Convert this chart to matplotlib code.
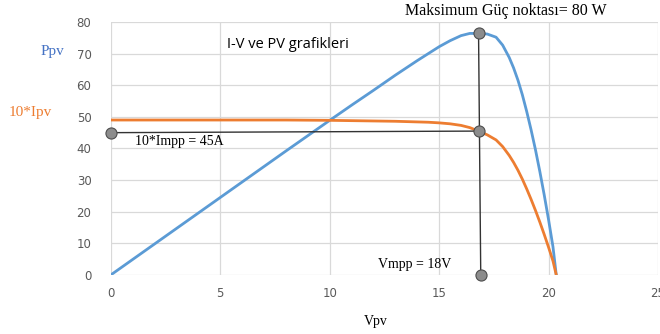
import numpy as np
import matplotlib.pyplot as plt

# Vpv (V), 10*Ipv (A) and Ppv (W)
vpv = [0, 2, 4, 6, 8, 10, 11, 12, 13, 14, 14.5, 15, 15.5, 16, 16.4, 16.8, 17.2, 17.6, 17.9,
       18.2, 18.4, 18.6, 18.8, 19.0, 19.2, 19.4, 19.6, 19.8, 20.0, 20.2, 20.35]
ipv10 = [49, 49, 49, 49, 49, 48.9, 48.8, 48.7, 48.6, 48.4, 48.3, 48.1, 47.8, 47.3, 46.6, 45.5, 44.3,
         42.7, 40.6, 37.8, 35.6, 33.1, 30.3, 27.2, 23.9, 20.4, 16.7, 12.8, 8.7, 4.4, 0]
ppv = [0, 9.8, 19.6, 29.4, 39.2, 48.9, 53.7, 58.4, 63.2, 67.8, 70.0, 72.2, 74.1, 75.7, 76.4, 76.4, 76.2,
       75.2, 72.7, 68.8, 65.5, 61.6, 57.0, 51.7, 45.9, 39.6, 32.7, 25.3, 17.4, 8.9, 0]

vmpp = 16.8
pmpp = 76.4
impp10 = 45.5
impp_left = 45

xticks = [0, 5, 10, 15, 20, 25]
yticks = [0, 10, 20, 30, 40, 50, 60, 70, 80]

serif = 'Liberation Serif'
blue = '#5B9BD5'
orange = '#ED7D31'

fig = plt.figure(figsize=(6.6, 3.34), dpi=100)
ax = fig.add_axes([0.168, 0.177, 0.829, 0.757])

ax.plot(vpv, ppv, color=blue, lw=2, solid_joinstyle='round', zorder=3)
ax.plot(vpv, ipv10, color=orange, lw=2, solid_joinstyle='round', zorder=3)

# MPP guide lines
ax.plot([vmpp, vmpp + 0.1], [pmpp, 0], color='#333333', lw=1, zorder=4)
ax.plot([0, vmpp], [impp_left, impp10], color='#333333', lw=1, zorder=4)
mk = dict(marker='o', ms=8, mfc='#8c8c8c', mec='#4d4d4d', mew=0.8, ls='none', zorder=5)
ax.plot([vmpp], [pmpp], **mk)
ax.plot([vmpp], [impp10], **mk)
ax.plot([0], [impp_left], clip_on=False, **mk)
ax.plot([vmpp + 0.1], [0], clip_on=False, **mk)

ax.set_xlim(0, 25)
ax.set_ylim(0, 80)
ax.set_xticks(xticks)
ax.set_yticks(yticks)
ax.grid(True, color='#d9d9d9', lw=0.9)
ax.set_axisbelow(True)
for s in ax.spines.values():
    s.set_visible(False)
ax.tick_params(length=0, labelsize=8.5, labelcolor='#595959', pad=9)
ax.tick_params(axis='y', pad=14)

ax.text(8.1, 73, 'I-V ve PV grafikleri', fontsize=10.5, family='Open Sans', ha='center', va='center')
fig.text(506 / 660, 1 - 11 / 334, 'Maksimum Güç noktası= 80 W', fontsize=11.5, family=serif,
         ha='center', va='center')
ax.text(1.1, 42.3, '10*Impp = 45A', fontsize=10, family=serif, ha='left', va='center')
ax.text(12.2, 3.2, 'Vmpp = 18V', fontsize=10, family=serif, ha='left', va='center')
fig.text(52 / 660, 1 - 52 / 334, 'Ppv', fontsize=11, family=serif, color='#4472C4', ha='center', va='center')
fig.text(30 / 660, 1 - 113 / 334, '10*Ipv', fontsize=11, family=serif, color=orange, ha='center', va='center')
fig.text(376 / 660, 1 - 322 / 334, 'Vpv', fontsize=10, family=serif, ha='center', va='center')

fig.savefig('out.png', dpi=100)
